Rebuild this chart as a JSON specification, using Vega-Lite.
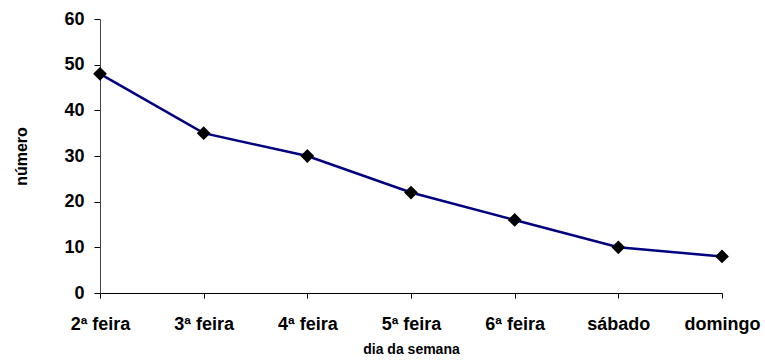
{
  "$schema": "https://vega.github.io/schema/vega-lite/v6.json",
  "autosize": "none",
  "width": 622,
  "height": 274,
  "padding": {"left": 100, "top": 19, "right": 43, "bottom": 67},
  "background": "white",
  "config": {
    "view": {"stroke": null},
    "font": "Liberation Sans",
    "axis": {
      "labelFont": "Liberation Sans",
      "labelFontWeight": "bold",
      "labelFontSize": 18,
      "labelColor": "black",
      "titleFont": "Liberation Sans",
      "titleFontWeight": "bold",
      "titleColor": "black",
      "domainColor": "black",
      "tickColor": "black",
      "grid": false
    }
  },
  "data": {
    "values": [
      {"dia": "2ª feira", "numero": 48},
      {"dia": "3ª feira", "numero": 35},
      {"dia": "4ª feira", "numero": 30},
      {"dia": "5ª feira", "numero": 22},
      {"dia": "6ª feira", "numero": 16},
      {"dia": "sábado", "numero": 10},
      {"dia": "domingo", "numero": 8}
    ]
  },
  "encoding": {
    "x": {
      "field": "dia",
      "type": "ordinal",
      "sort": null,
      "scale": {"type": "point", "padding": 0},
      "axis": {
        "title": "dia da semana",
        "titleFontSize": 14,
        "labelAngle": 0,
        "labelPadding": 17,
        "tickSize": 5,
        "titlePadding": 9
      }
    },
    "y": {
      "field": "numero",
      "type": "quantitative",
      "scale": {"domain": [0, 60], "nice": false},
      "axis": {
        "title": "número",
        "titleFontSize": 16,
        "values": [0, 10, 20, 30, 40, 50, 60],
        "tickSize": 6,
        "labelPadding": 10,
        "titlePadding": 34,
        "domainColor": "#444444"
      }
    }
  },
  "layer": [
    {"mark": {"type": "line", "color": "#000080", "strokeWidth": 2.5}},
    {"mark": {"type": "point", "shape": "diamond", "filled": true, "color": "black", "size": 190, "opacity": 1}}
  ]
}
